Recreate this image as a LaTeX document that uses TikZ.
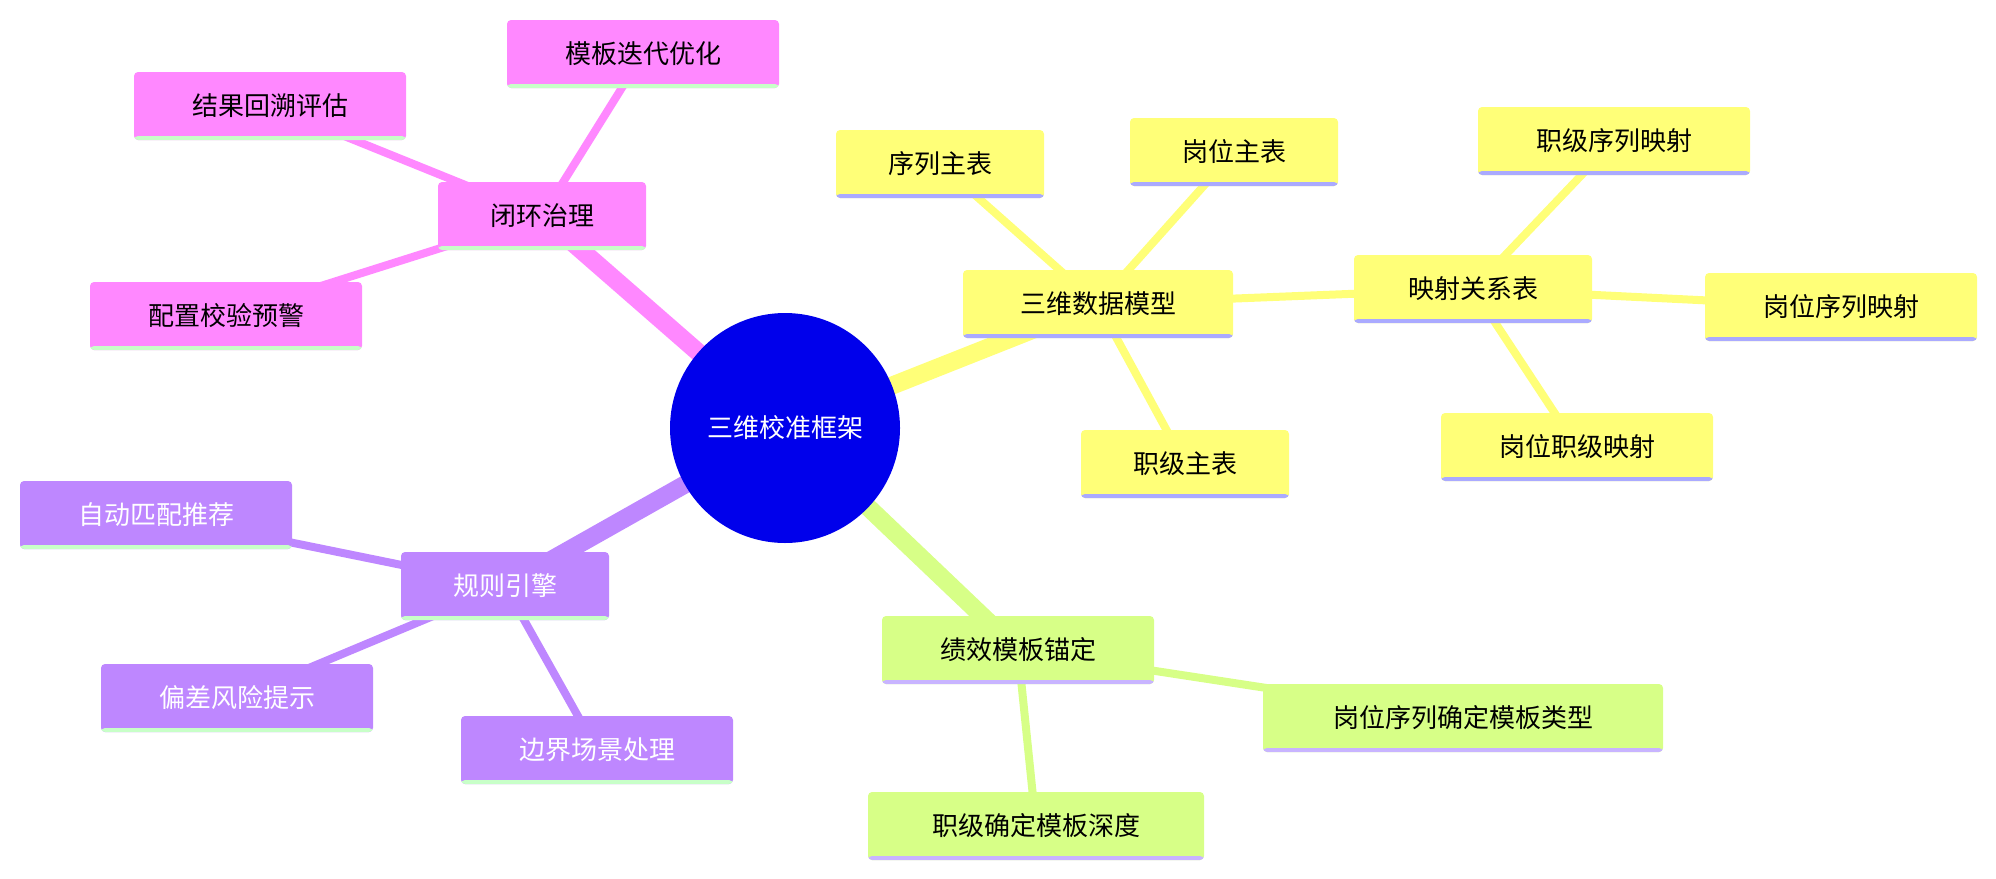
\documentclass[tikz,border=0pt]{standalone}
\usepackage{fontspec}
\setmainfont{Noto Sans CJK SC}
\usetikzlibrary{backgrounds}
\definecolor{cy}{RGB}{255,255,120}
\definecolor{cp}{RGB}{255,136,255}
\definecolor{cv}{RGB}{190,135,255}
\definecolor{cg}{RGB}{215,255,135}
\definecolor{lav}{RGB}{170,170,255}
\definecolor{lgr}{RGB}{200,255,200}
\definecolor{lpu}{RGB}{200,180,255}
\definecolor{cb}{RGB}{0,0,235}
\tikzset{
 box/.style={minimum height=34pt,inner xsep=8pt,rounded corners=2pt,font=\fontsize{13}{15}\selectfont},
 yb/.style={box,fill=cy,path picture={\fill[lav] ([yshift=2pt]path picture bounding box.south west) rectangle (path picture bounding box.south east);}},
 pb/.style={box,fill=cp,path picture={\fill[lgr] ([yshift=2pt]path picture bounding box.south west) rectangle (path picture bounding box.south east);}},
 vb/.style={box,fill=cv,text=white,path picture={\fill[lgr] ([yshift=2pt]path picture bounding box.south west) rectangle (path picture bounding box.south east);}},
 gb/.style={box,fill=cg,path picture={\fill[lpu] ([yshift=2pt]path picture bounding box.south west) rectangle (path picture bounding box.south east);}},
 main/.style={line width=9pt},
 sub/.style={line width=4pt}
}
\begin{document}
\begin{tikzpicture}[x=0.5pt,y=-0.5pt]
\useasboundingbox (0,0) rectangle (1996,878);
\node[circle,fill=cb,minimum size=115pt,text=white,font=\fontsize{13}{15}\selectfont] (c) at (785,428) {三维校准框架};
\node[yb,minimum width=135pt] (d) at (1098,304) {三维数据模型};
\node[yb,minimum width=104pt] (d1) at (940,164) {序列主表};
\node[yb,minimum width=104pt] (d2) at (1234,152) {岗位主表};
\node[yb,minimum width=104pt] (d3) at (1185,464) {职级主表};
\node[yb,minimum width=119pt] (m) at (1473,289) {映射关系表};
\node[yb,minimum width=136pt] (m1) at (1614,141) {职级序列映射};
\node[yb,minimum width=136pt] (m2) at (1841,307) {岗位序列映射};
\node[yb,minimum width=136pt] (m3) at (1577,447) {岗位职级映射};
\node[pb,minimum width=104pt] (p) at (542,216) {闭环治理};
\node[pb,minimum width=136pt] (p1) at (643,54) {模板迭代优化};
\node[pb,minimum width=136pt] (p2) at (270,106) {结果回溯评估};
\node[pb,minimum width=136pt] (p3) at (226,316) {配置校验预警};
\node[vb,minimum width=104pt] (r) at (505,586) {规则引擎};
\node[vb,minimum width=136pt] (r1) at (156,515) {自动匹配推荐};
\node[vb,minimum width=136pt] (r2) at (237,698) {偏差风险提示};
\node[vb,minimum width=136pt] (r3) at (597,750) {边界场景处理};
\node[gb,minimum width=136pt] (g) at (1018,650) {绩效模板锚定};
\node[gb,minimum width=200pt] (g1) at (1463,718) {岗位序列确定模板类型};
\node[gb,minimum width=168pt] (g2) at (1036,826) {职级确定模板深度};
\begin{scope}[on background layer]
\draw[main,cy] (c.center)--(d.center);
\draw[main,cp] (c.center)--(p.center);
\draw[main,cv] (c.center)--(r.center);
\draw[main,cg] (c.center)--(g.center);
\draw[sub,cy] (d.center)--(d1.center) (d.center)--(d2.center) (d.center)--(d3.center) (d.center)--(m.center);
\draw[sub,cy] (m.center)--(m1.center) (m.center)--(m2.center) (m.center)--(m3.center);
\draw[sub,cp] (p.center)--(p1.center) (p.center)--(p2.center) (p.center)--(p3.center);
\draw[sub,cv] (r.center)--(r1.center) (r.center)--(r2.center) (r.center)--(r3.center);
\draw[sub,cg] (g.center)--(g1.center) (g.center)--(g2.center);
\end{scope}
\end{tikzpicture}
\end{document}
